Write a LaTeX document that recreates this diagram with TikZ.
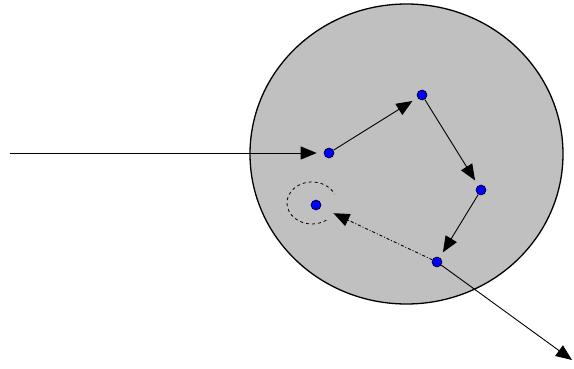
\documentclass[tikz,border=0pt]{standalone}
\usepackage{tikz}
\usetikzlibrary{arrows.meta}

\begin{document}
\begin{tikzpicture}[
    x=1pt, y=-1pt,
    dot/.style={circle, draw=black, fill=blue, line width=0.6pt, inner sep=0pt, minimum size=10pt},
    hop/.style={-{Triangle[length=16pt, width=13pt]}, line width=0.9pt},
    link/.style={hop, shorten >=6pt}
]
\useasboundingbox (0,0) rectangle (574,369);

% Cell
\draw[fill={rgb,255:red,192;green,192;blue,192}, line width=1.3pt] (406.5,154) ellipse (156.5 and 150);

% Points inside the cell
\node[dot] (p1) at (329,153) {};
\node[dot] (p2) at (422,95) {};
\node[dot] (p3) at (481,190) {};
\node[dot] (p4) at (437,262) {};
\node[dot] (p5) at (316,205) {};

% Loop round the last point
\draw[dashed, line width=0.8pt] (312,203) ++(55:25 and 21) arc[start angle=55, end angle=335, x radius=25, y radius=21];

% Entry and exit
\coordinate (in) at (10,153);
\coordinate (out) at (572,360);
\draw[hop, shorten >=7pt] (in) -- (p1);
\draw[hop] (p4) -- (out);

% Path between the points
\draw[link] (p1) -- (p2);
\draw[link] (p2) -- (p3);
\draw[link] (p3) -- (p4);
\draw[hop, dash dot, shorten >=14pt] (p4) -- (p5);

\end{tikzpicture}
\end{document}
